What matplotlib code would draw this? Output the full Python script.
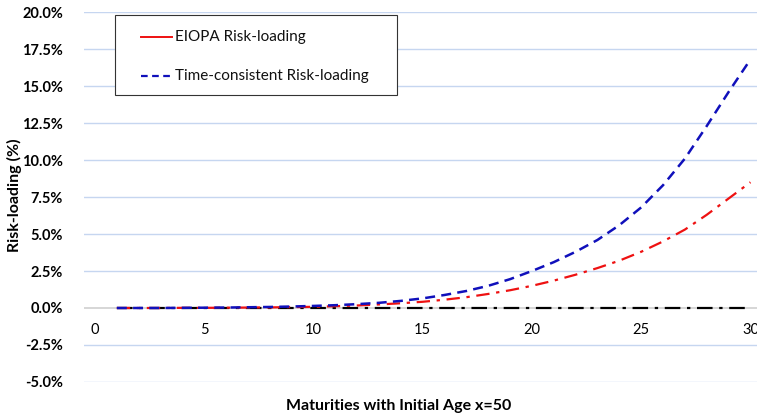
import matplotlib.pyplot as plt
from matplotlib.patches import Rectangle
from matplotlib.ticker import FuncFormatter
import numpy as np

# Maturities (years) with initial age x=50
maturities = list(range(1, 31))

# Risk-loading in percent
eiopa = [0.00, 0.00, 0.00, 0.01, 0.01, 0.02, 0.03, 0.04, 0.06, 0.08,
         0.12, 0.17, 0.24, 0.32, 0.42, 0.56, 0.73, 0.95, 1.20, 1.50,
         1.85, 2.25, 2.70, 3.20, 3.80, 4.50, 5.30, 6.30, 7.40, 8.50]
time_consistent = [0.00, 0.00, 0.00, 0.01, 0.02, 0.03, 0.05, 0.07, 0.10, 0.14,
                   0.19, 0.26, 0.35, 0.48, 0.65, 0.88, 1.15, 1.50, 1.95, 2.50,
                   3.10, 3.80, 4.60, 5.60, 6.80, 8.30, 10.10, 12.30, 14.60, 16.80]
baseline = [0.0] * 30

legend_labels = ['EIOPA Risk-loading', 'Time-consistent Risk-loading']
y_ticks = np.arange(-5.0, 20.1, 2.5)
x_ticks = [0, 5, 10, 15, 20, 25, 30]

red = '#ee1111'
blue = '#1010bb'

plt.rcParams['font.family'] = ['Lato', 'DejaVu Sans']

fig = plt.figure(figsize=(7.57, 4.17), dpi=100)
ax = fig.add_axes([0.111, 0.084, 0.889, 0.887])

# light blue gridlines, grey zero line
for yv in y_ticks:
    if yv == 0:
        ax.axhline(yv, color='#d0d0d0', lw=1.2, zorder=1)
    else:
        ax.axhline(yv, color='#c6d6f0', lw=1.0, zorder=1)

ax.plot(maturities, baseline, color='black', lw=1.6, ls=(0, (7, 3, 1.5, 3)), zorder=2)
ax.plot(maturities, eiopa, color=red, lw=1.6, ls=(0, (6, 3, 1.5, 3)), zorder=3)
ax.plot(maturities, time_consistent, color=blue, lw=1.8, ls=(0, (4, 2.5)), zorder=4)

ax.set_xlim(-0.5, 30.3)
ax.set_ylim(-5.0, 20.0)
ax.set_yticks(y_ticks)
ax.set_xticks(x_ticks)
ax.yaxis.set_major_formatter(FuncFormatter(lambda v, p: f'{v:.1f}%'))
ax.tick_params(axis='both', length=0, labelsize=10.5)
ax.tick_params(axis='y', pad=15)
ax.tick_params(axis='x', pad=11)
for lab in ax.get_xticklabels() + ax.get_yticklabels():
    lab.set_fontweight('bold')

ax.spines['bottom'].set_position(('data', 0))
for s in ax.spines.values():
    s.set_visible(False)

# legend box drawn by hand to get Excel-like spacing
ax.add_patch(Rectangle((0.046, 0.776), 0.419, 0.216, transform=ax.transAxes,
                       facecolor='white', edgecolor='#333333', lw=0.8, zorder=5))
ax.plot([0.0847, 0.131], [0.932, 0.932], transform=ax.transAxes, color=red, lw=1.4, zorder=6)
ax.plot([0.0847, 0.131], [0.827, 0.827], transform=ax.transAxes, color=blue, lw=1.6,
        ls=(0, (3, 2)), zorder=6)
for yy, lab in zip([0.932, 0.827], legend_labels):
    ax.text(0.135, yy, lab, transform=ax.transAxes, ha='left', va='center',
            fontsize=11, color='#111111', zorder=6)

fig.text(0.527, 0.026, 'Maturities with Initial Age x=50', ha='center', va='center',
         fontsize=11.5, fontweight='bold')
fig.text(0.019, 0.532, 'Risk-loading (%)', ha='center', va='center', rotation=90,
         fontsize=11.5, fontweight='bold')

fig.savefig('out.png', dpi=100)
